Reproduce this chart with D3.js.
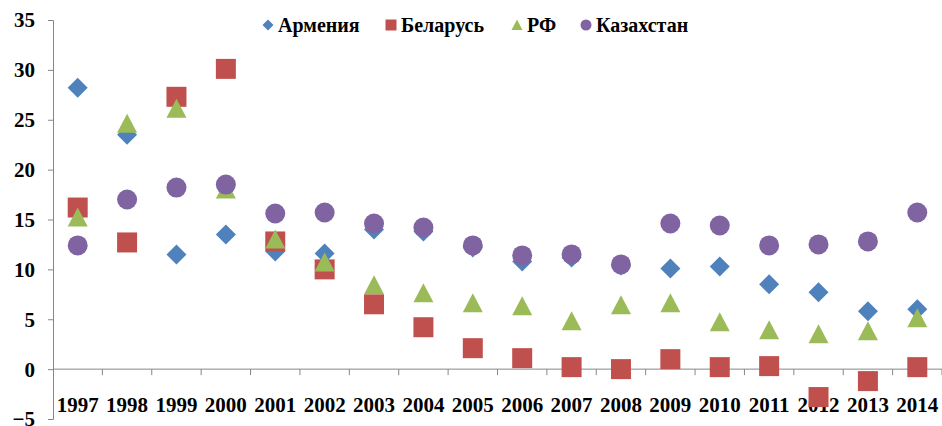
<!DOCTYPE html>
<html>
<head>
<meta charset="utf-8">
<script src="https://cdn.jsdelivr.net/npm/d3@7"></script>
<style>
  body { margin: 0; background: #fff; }
</style>
</head>
<body>
<svg id="chart" width="942" height="426"></svg>
<script>
const years = ["1997","1998","1999","2000","2001","2002","2003","2004","2005","2006","2007","2008","2009","2010","2011","2012","2013","2014"];
const armenia    = [28.2, 23.5, 11.5, 13.5, 11.8, 11.6, 14.0, 13.8, 12.2, 10.8, 11.2, 10.4, 10.1, 10.3, 8.5, 7.7, 5.8, 6.0];
const belarus    = [16.2, 12.7, 27.3, 30.1, 12.8, 10.0, 6.5, 4.2, 2.1, 1.1, 0.2, 0.0, 1.0, 0.2, 0.3, -2.8, -1.2, 0.2];
const rf         = [15.2, 24.6, 26.1, 18.0, 13.0, 10.7, 8.4, 7.6, 6.6, 6.3, 4.8, 6.4, 6.6, 4.7, 3.9, 3.5, 3.8, 5.1];
const kazakhstan = [12.4, 17.0, 18.2, 18.5, 15.6, 15.7, 14.6, 14.2, 12.4, 11.4, 11.5, 10.5, 14.6, 14.4, 12.4, 12.5, 12.8, 15.7];
const yTicks = [-5, 0, 5, 10, 15, 20, 25, 30, 35];

const FONT = "'Liberation Serif', 'Times New Roman', serif";

// custom marker shapes, size = half width in px
const diamond = { draw(c, r) { c.moveTo(0, -r); c.lineTo(r, 0); c.lineTo(0, r); c.lineTo(-r, 0); c.closePath(); } };
const square = { draw(c, r) { c.rect(-r, -r, 2 * r, 2 * r); } };
const triangle = { draw(c, r) { c.moveTo(0, -r); c.lineTo(r, r * 0.9); c.lineTo(-r, r * 0.9); c.closePath(); } };
const circle = { draw(c, r) { c.moveTo(r, 0); c.arc(0, 0, r, 0, 2 * Math.PI); } };

const series = [
  { name: "Армения", values: armenia, color: "#4F81BD", shape: diamond, r: 10 },
  { name: "Беларусь", values: belarus, color: "#C0504D", shape: square, r: 10 },
  { name: "РФ", values: rf, color: "#9BBB59", shape: triangle, r: 10 },
  { name: "Казахстан", values: kazakhstan, color: "#8064A2", shape: circle, r: 10 }
];

const svg = d3.select("#chart");

const x = d3.scaleBand().domain(years).range([53, 942]);
const y = d3.scaleLinear().domain([-5, 35]).range([419, 20]);

// y axis
svg.append("g")
  .attr("transform", "translate(53,0)")
  .call(d3.axisLeft(y).tickValues(yTicks).tickSize(5).tickPadding(13).tickFormat(d3.format("d")))
  .call(g => g.select(".domain").attr("stroke", "#868686"))
  .call(g => g.selectAll(".tick line").attr("stroke", "#868686"))
  .call(g => g.selectAll(".tick text")
    .style("font-family", FONT).style("font-weight", "bold")
    .style("font-size", "21px").attr("fill", "#000").attr("dy", "0.33em"));

// x axis on the zero line, ticks between categories
const xg = svg.append("g").attr("transform", `translate(0,${y(0)})`);
xg.append("line").attr("x1", 53).attr("x2", 942).attr("stroke", "#868686");
xg.selectAll("line.tk")
  .data(years)
  .enter()
  .append("line")
  .attr("class", "tk")
  .attr("x1", d => x(d) + x.bandwidth())
  .attr("x2", d => x(d) + x.bandwidth())
  .attr("y1", 0).attr("y2", 6)
  .attr("stroke", "#868686");
xg.selectAll("text")
  .data(years)
  .enter()
  .append("text")
  .attr("x", d => x(d) + x.bandwidth() / 2)
  .attr("y", 43)
  .attr("text-anchor", "middle")
  .style("font-family", FONT).style("font-weight", "bold")
  .style("font-size", "21px")
  .text(d => d);

// markers
series.forEach(s => {
  svg.append("g")
    .selectAll("path")
    .data(s.values)
    .enter()
    .append("path")
    .attr("d", d3.symbol().type(s.shape).size(s.r))
    .attr("transform", (d, i) => `translate(${x(years[i]) + x.bandwidth() / 2},${y(d)})`)
    .attr("fill", s.color);
});

// legend
const legendX = [268, 391, 517, 586];
const lg = svg.append("g");
series.forEach((s, i) => {
  lg.append("path")
    .attr("d", d3.symbol().type(s.shape).size(s.r * 0.55))
    .attr("transform", `translate(${legendX[i]},25)`)
    .attr("fill", s.color);
  lg.append("text")
    .attr("x", legendX[i] + 10)
    .attr("y", 25)
    .attr("dy", "0.33em")
    .style("font-family", FONT).style("font-weight", "bold")
    .style("font-size", "20px")
    .text(s.name);
});
</script>
</body>
</html>
